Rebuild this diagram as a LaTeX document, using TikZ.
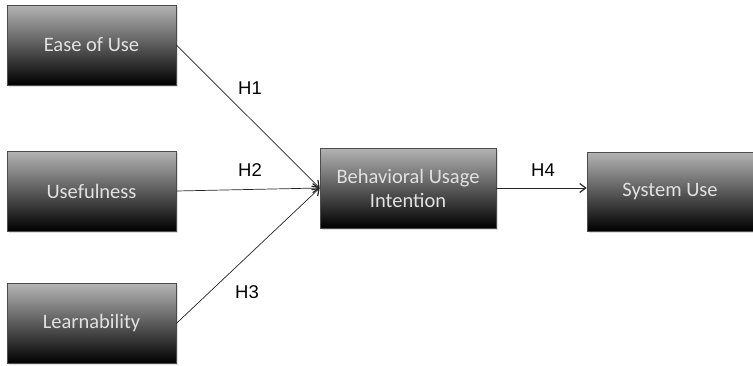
\documentclass[tikz,border=0pt]{standalone}
\usepackage{fontspec}
\setmainfont{Liberation Sans}
\newfontfamily\boxfont{Carlito}
\usetikzlibrary{arrows.meta,shadows}
\definecolor{boxtop}{RGB}{180,180,180}
\definecolor{boxtext}{RGB}{225,225,225}
\tikzset{
  box/.style={draw=black!70, line width=0.6pt, top color=boxtop, bottom color=black,
    minimum width=169pt, minimum height=80pt, inner sep=0pt, align=center,
    font=\boxfont\fontsize{20.5}{24}\selectfont, text=boxtext,
    drop shadow={shadow xshift=1.5pt, shadow yshift=-1.5pt, opacity=0.25}},
  conn/.style={draw=black!85, line width=0.7pt, -{Straight Barb[length=6pt,width=9pt,line width=1.2pt]}},
  hlab/.style={font=\fontsize{18.5}{21}\selectfont, text=black}
}
\begin{document}
\begin{tikzpicture}[x=1pt,y=-1pt]
\useasboundingbox (0,0) rectangle (753,365);
\node[box] (ease) at (91.5,45) {Ease of Use};
\node[box] (useful) at (91.5,191) {Usefulness};
\node[box] (learn) at (91.5,323.5) {Learnability};
\node[box, minimum width=176pt] (bui) at (408,188) {Behavioral Usage\\Intention};
\node[box, minimum width=166pt, minimum height=79pt] (sys) at (670,191.5) {System Use};
\coordinate (conv) at (bui.west);
\draw[conn] (ease.east) -- (conv);
\draw[conn] (useful.east) -- (conv);
\draw[conn] (learn.east) -- (conv);
\draw[conn] (bui.east) -- (sys.west |- bui.east);
\node[hlab] (h1) at (250,88) {H1};
\node[hlab] (h2) at (250,170) {H2};
\node[hlab] (h3) at (247,292) {H3};
\node[hlab] (h4) at (543,170) {H4};
\end{tikzpicture}
\end{document}
